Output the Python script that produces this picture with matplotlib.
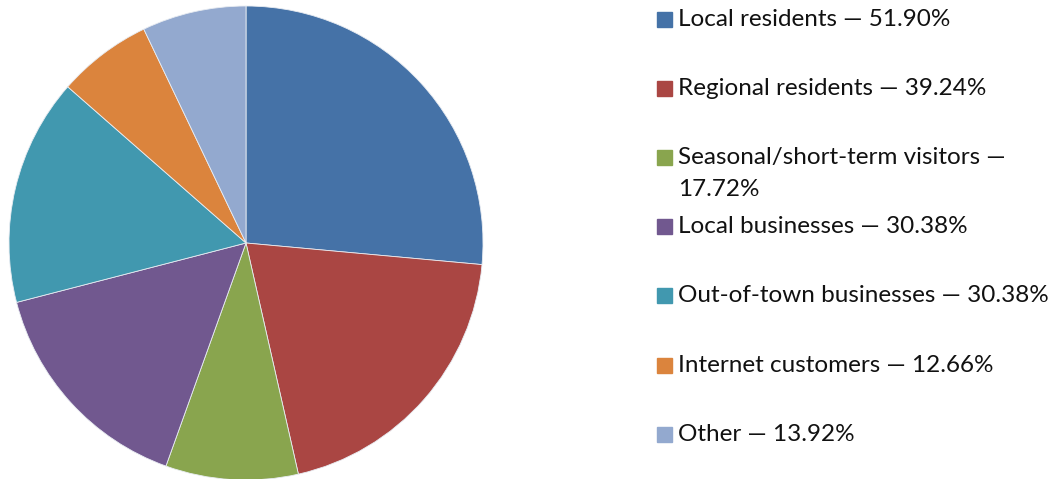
import matplotlib.pyplot as plt

# Data
labels = ['Local residents', 'Regional residents', 'Seasonal/short-term visitors',
          'Local businesses', 'Out-of-town businesses', 'Internet customers', 'Other']
values = [51.90, 39.24, 17.72, 30.38, 30.38, 12.66, 13.92]
legend_text = ['Local residents \u2014 51.90%', 'Regional residents \u2014 39.24%',
               'Seasonal/short-term visitors \u2014\n17.72%', 'Local businesses \u2014 30.38%',
               'Out-of-town businesses \u2014 30.38%', 'Internet customers \u2014 12.66%',
               'Other \u2014 13.92%']
colors = ['#4572A7', '#AA4643', '#89A54E', '#71588F', '#4198AF', '#DB843D', '#93A9CF']

W, H = 1059, 479
fig = plt.figure(figsize=(W / 100, H / 100), dpi=100)
plt.rcParams['font.family'] = ['Lato', 'DejaVu Sans']

# Pie axes: center (246, 243) px from top, radius ~237 px
cx, cy, r = 246, 243, 237
ax = fig.add_axes([(cx - r) / W, (H - cy - r) / H, 2 * r / W, 2 * r / H])
ax.pie(values, colors=colors, startangle=90, counterclock=False, radius=1,
       wedgeprops=dict(edgecolor='#e8ecf2', linewidth=0.6))
ax.set_xlim(-1, 1)
ax.set_ylim(-1, 1)
ax.set_aspect('equal')
ax.axis('off')

# Legend drawn by hand to match the layout
y0, step, line_gap = 19, 69.2, 32
for i, (txt, c) in enumerate(zip(legend_text, colors)):
    y = y0 + i * step
    fig.patches.append(plt.Rectangle((657 / W, (H - y - 7.5) / H), 15 / W, 15 / H,
                                     transform=fig.transFigure, color=c))
    for j, line in enumerate(txt.split('\n')):
        fig.text(678 / W, (H - y - j * line_gap) / H, line, fontsize=17.5,
                 va='center', ha='left', color='#111111')

fig.savefig('out.png', dpi=100, facecolor='white')
